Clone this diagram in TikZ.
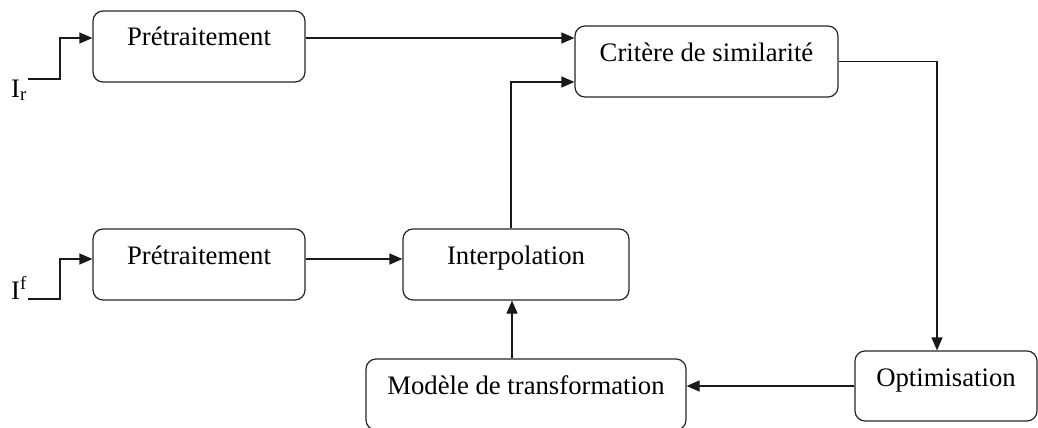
\documentclass[tikz,border=0pt]{standalone}
\usepackage{fontspec}
\setmainfont{Liberation Serif}
\usetikzlibrary{arrows.meta}
\usetikzlibrary{calc}
\usetikzlibrary{positioning}

\tikzset{
    bloc/.style={draw=black!85, line width=1.2pt, rounded corners=10pt, inner sep=0pt,
        minimum height=71pt, text height=35pt, text depth=36pt,
        font=\fontsize{26.7}{32}\selectfont},
    lien/.style={line width=1.2pt, black!90, -{Triangle[length=13pt,width=11pt]}},
    lbl/.style={inner sep=0pt, font=\fontsize{26.7}{32}\selectfont}
}

\begin{document}
\begin{tikzpicture}[x=1pt, y=-1pt]
    \clip (0,0) rectangle (1038,428) ;
    \node[bloc, minimum width=212pt] (pre1) at (199,46.5) {Prétraitement} ;
    \node[bloc, minimum width=212pt] (pre2) at (199,264.5) {Prétraitement} ;
    \node[bloc, minimum width=263pt] (crit) at (706.5,61.5) {Critère de similarité} ;
    \node[bloc, minimum width=226pt] (interp) at (516,264.5) {Interpolation} ;
    \node[bloc, minimum width=320pt] (modele) at (526,394.5) {Modèle de transformation} ;
    \node[bloc, minimum width=182pt, minimum height=70pt, text depth=35pt] (optim) at (946,386) {Optimisation} ;
    \node[lbl, anchor=base west] (Ir) at (11,97) {I\textsubscript{r}} ;
    \node[lbl, anchor=base west] (If) at (11,299) {I\textsuperscript{f}} ;
    \coordinate (ir) at (28,79) ;
    \coordinate (if) at (28,299) ;
    \draw[lien] (ir) --+ (32,0) |- ([yshift=8.5pt]pre1.west) ;
    \draw[lien] (if) --+ (32,0) |- ([yshift=5.5pt]pre2.west) ;
    \draw[lien] ([yshift=8.5pt]pre1.east) -- ([yshift=8.5pt]pre1.east -| crit.west) ;
    \draw[lien] ([yshift=5.5pt]pre2.east) -- ([yshift=5.5pt]pre2.east -| interp.west) ;
    \draw[lien] ([xshift=-5pt]interp.north) |- ([yshift=-20.5pt]crit.west) ;
    \draw[lien] (crit.east) -| ([xshift=-9pt]optim.north) ;
    \draw[lien] (optim.west) -- (optim.west -| modele.east) ;
    \draw[lien] ([xshift=-14pt]modele.north) -- ([xshift=-14pt]modele.north |- interp.south) ;
\end{tikzpicture}
\end{document}
